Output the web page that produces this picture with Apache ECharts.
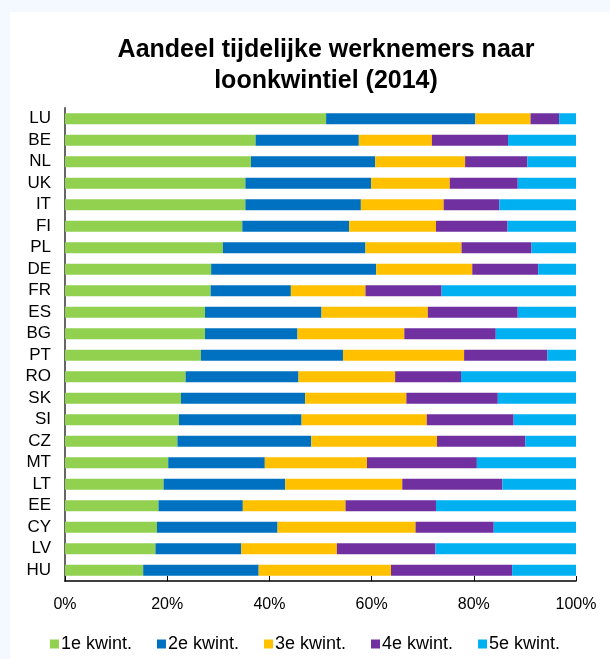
<!DOCTYPE html>
<html>
<head>
<meta charset="utf-8">
<script src="https://cdn.jsdelivr.net/npm/echarts@6/dist/echarts.min.js"></script>
<style>
  html, body { margin: 0; padding: 0; background: #f3f9fe; }
  #main { width: 610px; height: 659px; }
</style>
</head>
<body>
<div id="main"></div>
<script>
var countries = ["LU", "BE", "NL", "UK", "IT", "FI", "PL", "DE", "FR", "ES", "BG", "PT", "RO", "SK", "SI", "CZ", "MT", "LT", "EE", "CY", "LV", "HU"];
var seriesNames = ["1e kwint.", "2e kwint.", "3e kwint.", "4e kwint.", "5e kwint."];

var q1 = [51.1, 37.3, 36.4, 35.3, 35.3, 34.7, 30.9, 28.6, 28.5, 27.4, 27.4, 26.6, 23.6, 22.7, 22.3, 22.0, 20.2, 19.3, 18.3, 18.0, 17.7, 15.3];
var q2 = [29.2, 20.2, 24.3, 24.6, 22.6, 20.9, 27.9, 32.3, 15.7, 22.8, 18.1, 27.8, 22.1, 24.3, 24.0, 26.2, 18.9, 23.8, 16.5, 23.6, 16.8, 22.6];
var q3 = [10.8, 14.3, 17.6, 15.4, 16.2, 17.0, 18.8, 18.8, 14.6, 20.8, 20.9, 23.7, 18.9, 19.8, 24.5, 24.6, 20.0, 22.9, 20.1, 27.0, 18.7, 25.9];
var q4 = [5.6, 14.9, 12.2, 13.3, 10.9, 14.0, 13.7, 12.9, 14.9, 17.6, 17.9, 16.3, 12.9, 17.9, 17.0, 17.3, 21.5, 19.6, 17.7, 15.3, 19.3, 23.7];
var q5 = [3.3, 13.3, 9.5, 11.4, 15.0, 13.4, 8.7, 7.4, 26.3, 11.4, 15.7, 5.6, 22.5, 15.3, 12.2, 9.9, 19.4, 14.4, 27.4, 16.1, 27.5, 12.5];

var xTicks = [0, 20, 40, 60, 80, 100];

var colors = ["#92d050", "#0070c0", "#ffc000", "#7030a0", "#00b0f0"];
var allValues = [q1, q2, q3, q4, q5];

var chartDom = document.getElementById("main");
var myChart = echarts.init(chartDom, null, { renderer: "canvas" });

var series = seriesNames.map(function (name, i) {
  return {
    name: name,
    type: "bar",
    stack: "total",
    barWidth: 11,
    data: allValues[i],
    itemStyle: { color: colors[i] }
  };
});

var option = {
  backgroundColor: "#f3f9fe",
  animation: false,
  graphic: [
    {
      type: "rect",
      z: -10,
      shape: { x: 10, y: 12, width: 600, height: 647 },
      style: { fill: "#ffffff" }
    }
  ],
  title: {
    text: "Aandeel tijdelijke werknemers naar\nloonkwintiel (2014)",
    left: 321,
    top: 30,
    textAlign: "center",
    textStyle: {
      fontFamily: "Liberation Sans",
      fontSize: 25,
      fontWeight: "bold",
      color: "#000",
      lineHeight: 31
    }
  },
  legend: {
    bottom: 1,
    left: "center",
    itemWidth: 9,
    itemHeight: 9,
    itemGap: 25,
    icon: "rect",
    textStyle: { fontFamily: "Liberation Sans", fontSize: 18, color: "#000", padding: [0, 0, 0, -3] },
    data: seriesNames
  },
  grid: {
    left: 65,
    right: 34,
    top: 108,
    bottom: 78
  },
  xAxis: {
    type: "value",
    min: 0,
    max: 100,
    interval: 20,
    axisLine: { show: true, lineStyle: { color: "#000", width: 1.5 } },
    axisTick: { show: true, inside: true, length: 5, lineStyle: { color: "#000" } },
    splitLine: { show: false },
    axisLabel: {
      margin: 16,
      fontFamily: "Liberation Sans",
      fontSize: 16,
      color: "#000",
      formatter: function (v) { return xTicks.indexOf(v) >= 0 ? v + "%" : ""; }
    }
  },
  yAxis: {
    type: "category",
    inverse: true,
    data: countries,
    axisLine: { show: true, lineStyle: { color: "#666", width: 2 } },
    axisTick: { show: false },
    axisLabel: {
      interval: 0,
      margin: 14,
      fontFamily: "Liberation Sans",
      fontSize: 17,
      color: "#000"
    }
  },
  series: series
};

myChart.setOption(option);
</script>
</body>
</html>
